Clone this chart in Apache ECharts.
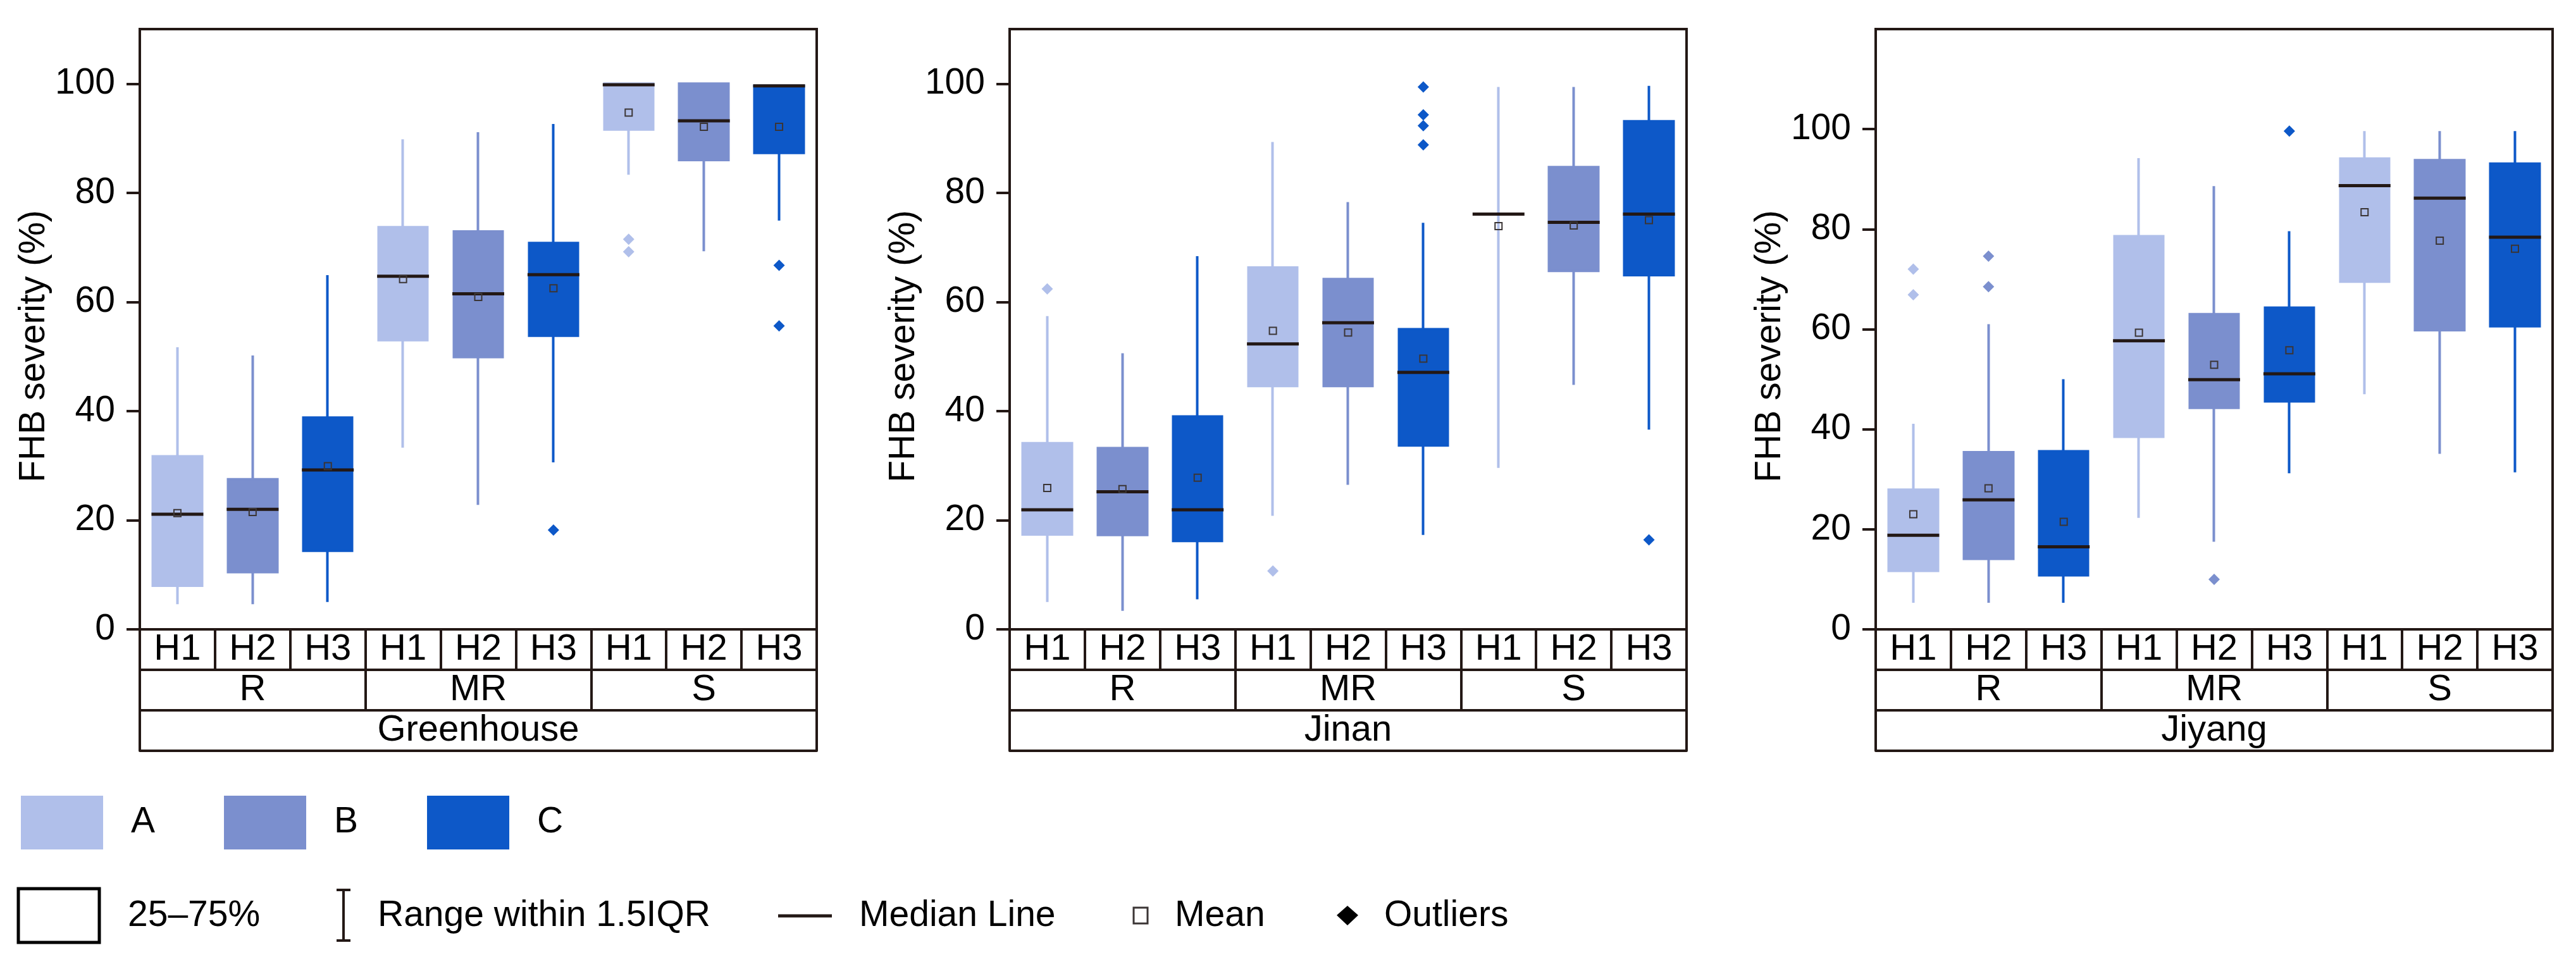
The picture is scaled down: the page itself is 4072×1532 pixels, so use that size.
<!DOCTYPE html>
<html>
<head>
<meta charset="utf-8">
<style>
  html, body { margin: 0; padding: 0; background: #ffffff; }
  #chart { width: 4072px; height: 1532px; }
</style>
<script src="https://cdn.jsdelivr.net/npm/echarts@6/dist/echarts.min.js"></script>
</head>
<body>
<div id="chart"></div>
<script>
// ---------- Data ----------
const hLabels = ['H1', 'H2', 'H3', 'H1', 'H2', 'H3', 'H1', 'H2', 'H3'];
const groupLabels = ['R', 'MR', 'S'];
const siteLabels = ['Greenhouse', 'Jinan', 'Jiyang'];
const seriesNames = ['A', 'B', 'C'];
const yTickValues = [0, 20, 40, 60, 80, 100];
const yMaxes = [110, 110, 120];

// Greenhouse
const ghLow  = [4.6, 4.6, 5.0, 33.3, 22.8, 30.6, 83.3, 69.3, 74.9];
const ghQ1   = [8.0, 10.5, 14.4, 53.0, 49.9, 53.8, 91.6, 86.0, 87.3];
const ghMed  = [21.1, 22.0, 29.2, 64.7, 61.5, 65.0, 99.8, 93.2, 99.6];
const ghQ3   = [31.7, 27.5, 38.8, 73.7, 72.9, 70.8, 100, 100, 99.6];
const ghHigh = [51.7, 50.2, 64.9, 89.8, 91.1, 92.6, 100, 100, 99.6];
const ghMean = [21.3, 21.5, 29.9, 64.2, 60.9, 62.5, 94.7, 92.1, 92.1];
const ghOut  = [[5, 18.2], [6, 71.5], [6, 69.2], [8, 66.7], [8, 55.6]];

// Jinan
const jnLow  = [5.0, 3.4, 5.5, 20.8, 26.5, 17.3, 29.6, 44.8, 36.6];
const jnQ1   = [17.4, 17.3, 16.2, 44.6, 44.6, 33.7, 76.1, 65.7, 64.9];
const jnMed  = [21.9, 25.2, 21.9, 52.3, 56.2, 47.1, 76.1, 74.6, 76.1];
const jnQ3   = [34.1, 33.2, 39.0, 66.3, 64.2, 55.0, 76.1, 84.7, 93.1];
const jnHigh = [57.4, 50.6, 68.4, 89.3, 78.3, 74.5, 99.4, 99.4, 99.6];
const jnMean = [25.9, 25.7, 27.8, 54.7, 54.4, 49.6, 73.9, 74.0, 75.0];
const jnOut  = [[0, 62.4], [3, 10.7], [5, 99.4], [5, 94.3], [5, 92.3], [5, 88.8], [8, 16.4]];

// Jiyang
const jyLow  = [5.3, 5.3, 5.3, 22.3, 17.5, 31.2, 47.0, 35.1, 31.4];
const jyQ1   = [11.7, 14.1, 10.8, 38.5, 44.3, 45.6, 69.5, 59.8, 60.6];
const jyMed  = [18.8, 25.9, 16.5, 57.7, 49.9, 51.1, 88.7, 86.2, 78.4];
const jyQ3   = [27.9, 35.4, 35.6, 78.6, 63.0, 64.3, 94.1, 93.8, 93.1];
const jyHigh = [41.1, 61.0, 50.0, 94.2, 88.6, 79.6, 99.6, 99.6, 99.6];
const jyMean = [23.0, 28.2, 21.5, 59.3, 52.9, 55.8, 83.4, 77.7, 76.1];
const jyOut  = [[0, 72.0], [0, 66.9], [1, 74.6], [1, 68.5], [4, 10.0], [5, 99.6]];

// ---------- Styling ----------
const FONT = "'Liberation Sans', Arial, sans-serif";
const INK = '#231815';
const COLORS = ['#b0bfea', '#7b8fce', '#0d58c8'];
const FS = 57;
const ROW = 64;

const panels = [
  { low: ghLow, q1: ghQ1, med: ghMed, q3: ghQ3, high: ghHigh, mean: ghMean, out: ghOut },
  { low: jnLow, q1: jnQ1, med: jnMed, q3: jnQ3, high: jnHigh, mean: jnMean, out: jnOut },
  { low: jyLow, q1: jyQ1, med: jyMed, q3: jyQ3, high: jyHigh, mean: jyMean, out: jyOut }
];
const gridLefts = [221, 1596, 2965];
const GRID_W = 1070;
const GRID_TOP = 46;
const GRID_H = 949;

const grids = [], xAxes = [], yAxes = [], series = [];
const lineSt = { color: INK, width: 4 };

panels.forEach((p, g) => {
  grids.push({
    left: gridLefts[g], top: GRID_TOP, width: GRID_W, height: GRID_H,
    show: true, borderColor: INK, borderWidth: 4, backgroundColor: 'transparent'
  });
  const rows = [hLabels, groupLabels, [siteLabels[g]], ['']];
  rows.forEach((labels, r) => {
    xAxes.push({
      type: 'category', gridIndex: g, data: labels, position: 'bottom',
      offset: r * ROW, boundaryGap: true,
      axisLine: { show: true, onZero: false, lineStyle: lineSt },
      axisTick: { show: r < 3, length: ROW, interval: 0, inside: false, lineStyle: lineSt },
      axisLabel: {
        show: r < 3, interval: 0, margin: ROW / 2, verticalAlign: 'middle',
        fontSize: 58, fontFamily: FONT, color: '#000'
      },
      splitLine: { show: false }
    });
  });
  yAxes.push({
    type: 'value', gridIndex: g, min: 0, max: yMaxes[g],
    name: 'FHB severity (%)', nameLocation: 'middle', nameGap: 133,
    nameTextStyle: { fontSize: FS, fontFamily: FONT, color: '#000', padding: [0, 54, 0, 0] },
    axisLine: { show: true, lineStyle: lineSt },
    axisTick: { show: true, length: 21, lineStyle: lineSt, customValues: yTickValues },
    axisLabel: { fontSize: FS, fontFamily: FONT, color: '#000', margin: 39, customValues: yTickValues },
    splitLine: { show: false }
  });

  const xi = g * 4;
  // boxes + whiskers (candlestick: open=Q1, close=Q3, low, high)
  seriesNames.forEach((nm, k) => {
    const data = [];
    for (let i = 0; i < 9; i++) {
      if (i % 3 === k) data.push([i, p.q1[i], p.q3[i], p.low[i], p.high[i]]);
    }
    series.push({
      name: nm, type: 'candlestick', xAxisIndex: xi, yAxisIndex: g,
      data: data, encode: { x: 0, y: [1, 2, 3, 4] },
      barWidth: 78, z: 2,
      itemStyle: {
        color: COLORS[k], color0: COLORS[k],
        borderColor: COLORS[k], borderColor0: COLORS[k], borderColorDoji: COLORS[k],
        borderWidth: 4
      }
    });
  });
  // median lines
  series.push({
    name: 'Median', type: 'scatter', xAxisIndex: xi, yAxisIndex: g, z: 5,
    symbol: 'rect', symbolSize: [82, 5],
    itemStyle: { color: INK, opacity: 1 },
    data: p.med.map((v, i) => [i, v])
  });
  // means
  series.push({
    name: 'MeanPts', type: 'scatter', xAxisIndex: xi, yAxisIndex: g, z: 6,
    symbol: 'rect', symbolSize: 11,
    itemStyle: { color: 'rgba(255,255,255,0)', borderColor: '#3b3535', borderWidth: 2, opacity: 1 },
    data: p.mean.map((v, i) => [i, v])
  });
  // outliers
  series.push({
    name: 'OutPts', type: 'scatter', xAxisIndex: xi, yAxisIndex: g, z: 5,
    symbol: 'diamond', symbolSize: 18,
    data: p.out.map(o => ({ value: [o[0], o[1]], itemStyle: { color: COLORS[o[0] % 3], opacity: 1 } }))
  });
});

// ---------- Second legend row (key for box elements) ----------
const keyText = (x, txt) => ({
  type: 'text', left: x, top: 1448 - 34,
  style: { text: txt, fontSize: FS, fontFamily: FONT, fill: '#000', lineHeight: 68, verticalAlign: 'middle' }
});
const graphic = [
  { type: 'rect', shape: { x: 29, y: 1405, width: 128, height: 85 },
    style: { fill: '#fff', stroke: '#000', lineWidth: 5 } },
  keyText(202, '25–75%'),
  { type: 'line', shape: { x1: 543, y1: 1407, x2: 543, y2: 1487 }, style: { stroke: INK, lineWidth: 4 } },
  { type: 'line', shape: { x1: 532, y1: 1407, x2: 554, y2: 1407 }, style: { stroke: INK, lineWidth: 4 } },
  { type: 'line', shape: { x1: 532, y1: 1487, x2: 554, y2: 1487 }, style: { stroke: INK, lineWidth: 4 } },
  keyText(597, 'Range within 1.5IQR'),
  { type: 'line', shape: { x1: 1230, y1: 1448, x2: 1315, y2: 1448 }, style: { stroke: INK, lineWidth: 5 } },
  keyText(1358, 'Median Line'),
  { type: 'rect', shape: { x: 1792, y: 1435, width: 22, height: 25 },
    style: { fill: 'rgba(255,255,255,0)', stroke: '#3b3535', lineWidth: 3 } },
  keyText(1857, 'Mean'),
  { type: 'polygon', shape: { points: [[2130, 1432], [2147, 1447], [2130, 1463], [2113, 1447]] },
    style: { fill: '#000' } },
  keyText(2188, 'Outliers')
];

const chart = echarts.init(document.getElementById('chart'), null, { renderer: 'canvas' });
chart.setOption({
  animation: false,
  backgroundColor: '#ffffff',
  textStyle: { fontFamily: FONT },
  grid: grids,
  xAxis: xAxes,
  yAxis: yAxes,
  legend: {
    data: seriesNames, left: 28, top: 1253, orient: 'horizontal',
    icon: 'rect', itemWidth: 130, itemHeight: 85, itemGap: 109,
    selectedMode: false,
    itemStyle: { borderWidth: 0 },
    textStyle: { fontSize: FS, fontFamily: FONT, color: '#000', padding: [0, 0, 0, 39] }
  },
  tooltip: { show: false },
  series: series,
  graphic: graphic
});
</script>
</body>
</html>
